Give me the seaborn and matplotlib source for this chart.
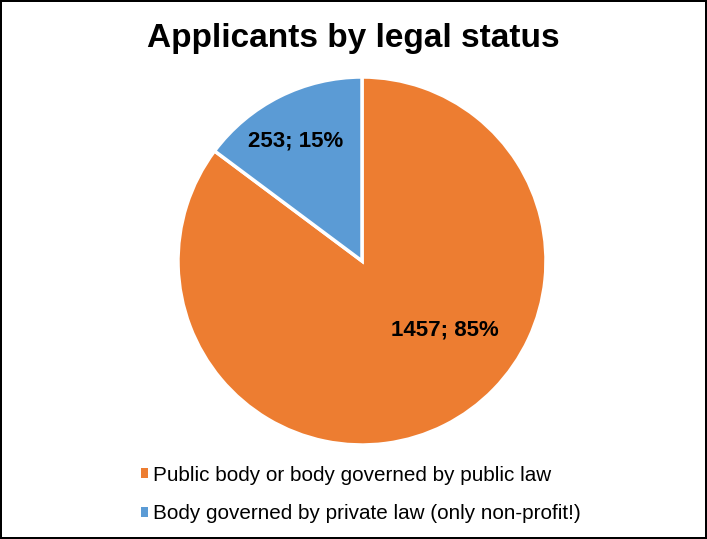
import matplotlib
matplotlib.use("Agg")
import matplotlib.pyplot as plt
import seaborn as sns
from matplotlib.patches import Patch

sns.set_theme(style="white")
plt.rcParams['font.family'] = ['Liberation Sans', 'DejaVu Sans']

categories = ["Public body or body governed by public law",
              "Body governed by private law (only non-profit!)"]
values = [1457, 253]
colors = ["#ED7D31", "#5B9BD5"]
title = "Applicants by legal status"

W, H = 707, 539
fig = plt.figure(figsize=(W / 100, H / 100), dpi=100)
fig.patch.set_facecolor("white")
fig.patch.set_edgecolor("black")
fig.patch.set_linewidth(1.5)

ax = fig.add_axes([178 / W, (H - 445) / H, 368 / W, 368 / H])
wedges, _ = ax.pie(values, colors=colors, startangle=90, counterclock=False,
                   radius=1, wedgeprops=dict(edgecolor="white", linewidth=2.5))
ax.set_xlim(-1, 1)
ax.set_ylim(-1, 1)
ax.set_aspect("equal")
ax.axis("off")

total = sum(values)
label_pos = [(0.45, -0.375), (-0.36, 0.65)]
for v, (x, y) in zip(values, label_pos):
    ax.text(x, y, f"{v}; {round(100 * v / total)}%", ha="center", va="center",
            fontsize=16, fontweight="bold", color="black")

fig.text(353 / W, 1 - 38 / H, title, ha="center", va="center",
         fontsize=24, fontweight="bold", color="black")

handles = [Patch(facecolor=c, edgecolor="none") for c in colors]
leg = fig.legend(handles, categories, loc="upper left",
                 bbox_to_anchor=(122 / W, 1 - 447 / H), frameon=False,
                 fontsize=14.9, handlelength=0.35, handleheight=0.35,
                 handletextpad=0.25, labelspacing=0.95)
for t in leg.get_texts():
    t.set_color("black")

fig.savefig("out.png", dpi=100, facecolor=fig.get_facecolor(),
            edgecolor=fig.get_edgecolor())
